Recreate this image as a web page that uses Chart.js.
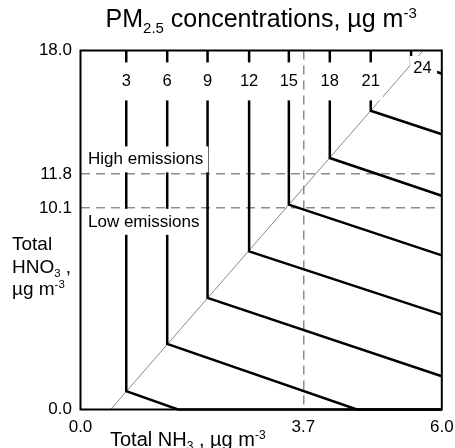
<!DOCTYPE html>
<html>
<head>
<meta charset="utf-8">
<script src="https://cdn.jsdelivr.net/npm/chart.js@4"></script>
<style>
  html, body { margin: 0; padding: 0; background: #fff; }
  #wrap { width: 455px; height: 448px; }
</style>
</head>
<body>
<div id="wrap"><canvas id="pmChart" width="455" height="448"></canvas></div>
<script>
// PM2.5 isopleths (ug m-3) vs total NH3 (x) and total HNO3 (y)
const contourLevels = [3, 6, 9, 12, 15, 18, 21, 24];
const contourX = [0.76, 1.44, 2.11, 2.80, 3.46, 4.14, 4.82, 5.49];   // vertical leg
const kinkY = [0.92, 3.29, 5.60, 7.93, 10.27, 12.61, 14.98, 17.30];  // where it meets the ratio line
const endX = [1.62, 4.59, 6.0, 6.0, 6.0, 6.0, 6.0, 6.0];
const endY = [0.0, 0.0, 1.67, 4.76, 7.73, 10.72, 13.80, 16.85];

const diagonalX = [0.5, 5.69];
const diagonalY = [0, 18];

const xTicks = [0, 3.7, 6];
const yTicks = [0, 10.1, 11.8, 18];
const refX = [3.7];
const refY = [10.1, 11.8];

const FONT = '"Liberation Sans", Arial, Helvetica, sans-serif';

const datasets = contourLevels.map((lvl, i) => {
  const pts = [
    { x: contourX[i], y: 18 },
    { x: contourX[i], y: kinkY[i] },
    { x: endX[i], y: endY[i] }
  ];
  // low isopleths run out along the x axis
  if (endY[i] === 0) pts.push({ x: 6, y: 0 });
  return {
    label: "PM " + lvl,
    data: pts,
    borderColor: "#000",
    borderWidth: 2.5,
    borderJoinStyle: "miter",
    pointRadius: 0,
    clip: 2,
    order: 1
  };
});

datasets.push({
  label: "ratio",
  data: diagonalX.map((x, i) => ({ x: x, y: diagonalY[i] })),
  borderColor: "#8a8a8a",
  borderWidth: 1,
  pointRadius: 0,
  order: 2
});

function drawRich(ctx, parts, x, y, size, align) {
  const sub = size * 0.6;
  const widths = parts.map(p => {
    ctx.font = (p.s === "n" ? size : sub) + "px " + FONT;
    return ctx.measureText(p.t).width;
  });
  const total = widths.reduce((a, b) => a + b, 0);
  let cx = align === "center" ? x - total / 2 : x;
  ctx.textAlign = "left";
  ctx.textBaseline = "alphabetic";
  parts.forEach((p, i) => {
    ctx.font = (p.s === "n" ? size : sub) + "px " + FONT;
    let dy = 0;
    if (p.s === "sub") dy = size * 0.22;
    if (p.s === "sup") dy = -size * 0.36;
    ctx.fillText(p.t, cx, y + dy);
    cx += widths[i];
  });
}

function labelBox(ctx, text, cx, cy, w, h, size, align, tx) {
  ctx.fillStyle = "#fff";
  ctx.fillRect(cx - w / 2, cy - h / 2, w, h);
  ctx.fillStyle = "#000";
  ctx.font = size + "px " + FONT;
  ctx.textAlign = align;
  ctx.textBaseline = "middle";
  ctx.fillText(text, tx, cy);
}

const decorations = {
  id: "decorations",
  afterDatasetsDraw(chart) {
    const { ctx, chartArea: area, scales } = chart;
    const xs = scales.x, ys = scales.y;
    ctx.save();

    // isopleth labels on white patches
    contourLevels.forEach((lvl, i) => {
      if (lvl === 24) {
        const px = xs.getPixelForValue(5.68);
        const py = ys.getPixelForValue(17.1);
        labelBox(ctx, String(lvl), px + 1, py, 27, 25, 16.5, "center", px);
      } else {
        const px = xs.getPixelForValue(contourX[i]);
        const py = ys.getPixelForValue(16.45);
        labelBox(ctx, String(lvl), px, py, 24, 38, 16.5, "center", px);
      }
    });

    // emission scenario labels
    const lx = area.left + 7.5;
    const hy = ys.getPixelForValue(12.54);
    const ly = ys.getPixelForValue(9.41);
    ctx.font = "17px " + FONT;
    const hw = ctx.measureText("High emissions").width;
    const lw = ctx.measureText("Low emissions").width;
    labelBox(ctx, "High emissions", lx + hw / 2, hy, hw + 10, 26, 17, "left", lx);
    labelBox(ctx, "Low emissions", lx + lw / 2, ly, lw + 10, 26, 17, "left", lx);

    // frame
    ctx.strokeStyle = "#000";
    ctx.lineWidth = 2;
    ctx.strokeRect(area.left, area.top, area.right - area.left, area.bottom - area.top);
    ctx.restore();
  },
  afterDraw(chart) {
    const { ctx, chartArea: area } = chart;
    ctx.save();
    ctx.fillStyle = "#000";
    drawRich(ctx, [
      { t: "PM", s: "n" }, { t: "2.5", s: "sub" },
      { t: " concentrations, \u00b5g m", s: "n" }, { t: "-3", s: "sup" }
    ], (area.left + area.right) / 2, 27, 25, "center");

    drawRich(ctx, [
      { t: "Total NH", s: "n" }, { t: "3", s: "sub" },
      { t: " , \u00b5g m", s: "n" }, { t: "-3", s: "sup" }
    ], 110, 446, 20, "left");

    drawRich(ctx, [{ t: "Total", s: "n" }], 12, 250, 19, "left");
    drawRich(ctx, [{ t: "HNO", s: "n" }, { t: "3", s: "sub" }, { t: " ,", s: "n" }], 12, 272.5, 19, "left");
    drawRich(ctx, [{ t: "\u00b5g m", s: "n" }, { t: "-3", s: "sup" }], 12, 295, 19, "left");
    ctx.restore();
  }
};

const refColor = (list) => (c) => (c.tick && list.includes(c.tick.value)) ? "#8c8c8c" : "rgba(0,0,0,0)";

new Chart(document.getElementById("pmChart"), {
  type: "line",
  data: { datasets: datasets },
  options: {
    responsive: false,
    animation: false,
    devicePixelRatio: 1,
    layout: { padding: { top: 50.5, right: 13.2, left: 0, bottom: 0 } },
    plugins: {
      legend: { display: false },
      tooltip: { enabled: false },
      title: { display: false }
    },
    scales: {
      x: {
        type: "linear",
        min: 0,
        max: 6,
        afterBuildTicks: (scale) => { scale.ticks = xTicks.map(v => ({ value: v })); },
        afterFit: (scale) => {
          scale.height = 38.5;
          scale.paddingLeft = 0;
          scale.paddingRight = 0;
        },
        ticks: {
          autoSkip: false,
          maxRotation: 0,
          padding: 8,
          color: "#000",
          font: { family: FONT, size: 17 },
          callback: (v) => Number(v).toFixed(1)
        },
        grid: { drawTicks: false, color: refColor(refX), lineWidth: 1.5 },
        border: { display: false, dash: [9, 6] }
      },
      y: {
        type: "linear",
        min: 0,
        max: 18,
        afterBuildTicks: (scale) => { scale.ticks = yTicks.map(v => ({ value: v })); },
        afterFit: (scale) => {
          scale.width = 80.5;
          scale.paddingTop = 0;
          scale.paddingBottom = 0;
        },
        ticks: {
          autoSkip: false,
          padding: 8.5,
          color: "#000",
          font: { family: FONT, size: 17 },
          callback: (v) => Number(v).toFixed(1)
        },
        grid: { drawTicks: false, color: refColor(refY), lineWidth: 1.5 },
        border: { display: false, dash: [9, 6] }
      }
    }
  },
  plugins: [decorations]
});
</script>
</body>
</html>
